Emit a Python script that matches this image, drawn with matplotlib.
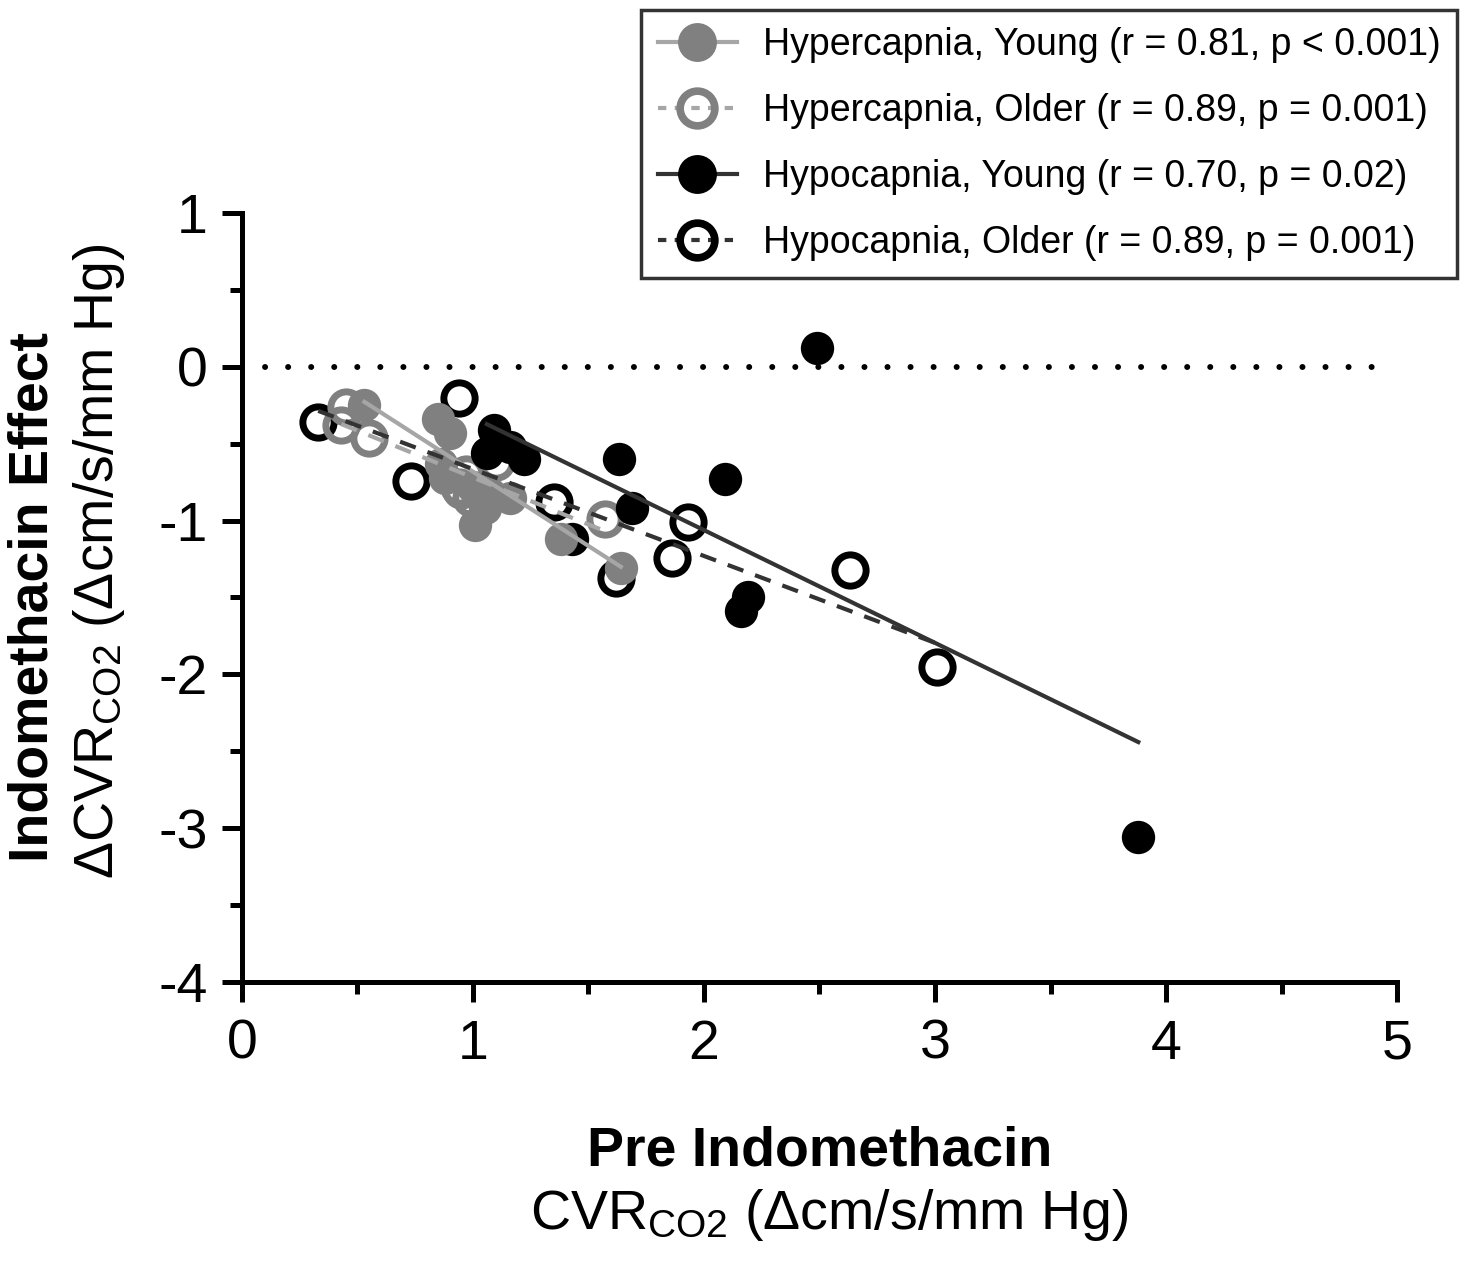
import numpy as np
import matplotlib
matplotlib.use('Agg')
import matplotlib.pyplot as plt
from matplotlib.lines import Line2D

plt.rcParams['font.family'] = ['Liberation Sans', 'DejaVu Sans']
plt.rcParams['mathtext.default'] = 'regular'

# ---- data ----
hyper_young_x = [0.53, 0.85, 0.90, 0.86, 0.88, 1.00, 1.07, 1.16, 1.01, 1.05, 1.38, 1.64]
hyper_young_y = [-0.25, -0.34, -0.43, -0.63, -0.72, -0.78, -0.82, -0.85, -1.03, -0.92, -1.12, -1.31]

hyper_older_x = [0.45, 0.43, 0.55, 0.94, 0.97, 0.99, 1.10, 1.57, 0.95]
hyper_older_y = [-0.26, -0.38, -0.46, -0.78, -0.70, -0.85, -0.62, -0.99, -0.80]

hypo_young_x = [2.49, 3.88, 1.09, 1.06, 1.16, 1.22, 1.63, 1.69, 2.09, 1.43, 2.19, 2.16]
hypo_young_y = [0.12, -3.06, -0.41, -0.56, -0.52, -0.60, -0.60, -0.92, -0.73, -1.12, -1.50, -1.59]

hypo_older_x = [0.33, 0.94, 0.73, 1.35, 1.62, 1.86, 1.93, 2.63, 3.01]
hypo_older_y = [-0.36, -0.20, -0.74, -0.88, -1.37, -1.24, -1.01, -1.32, -1.95]

# regression lines (slope, intercept) as drawn in the figure
fit_hyper_young = (-0.966, 0.284)
fit_hyper_older = (-0.61, -0.11)
fit_hypo_young = (-0.733, 0.404)
fit_hypo_older = (-0.565, -0.10)

labels = ['Hypercapnia, Young (r = 0.81, p < 0.001)',
          'Hypercapnia, Older (r = 0.89, p = 0.001)',
          'Hypocapnia, Young (r = 0.70, p = 0.02)',
          'Hypocapnia, Older (r = 0.89, p = 0.001)']

GRAY = '#808080'
LGRAY = '#a6a6a6'
DARK = '#333333'

fig = plt.figure(figsize=(14.63, 12.62), dpi=100)
ax = fig.add_axes([0.1654, 0.2219, 0.7895, 0.6093])

ms_fill = 24
ms_open = 22.5
mew_open = 5

# reference line at zero (dotted)
ax.plot([0, 4.93], [0, 0], color='black', linestyle=(0, (0.01, 3.85)), lw=4.3,
        dash_capstyle='round', zorder=1)

# markers
ax.plot(hypo_older_x, hypo_older_y, 'o', ms=ms_open, mfc='none', mec='black',
        mew=mew_open, zorder=2)
ax.plot(hyper_older_x, hyper_older_y, 'o', ms=ms_open, mfc='none', mec=GRAY,
        mew=mew_open, zorder=3)
ax.plot(hypo_young_x, hypo_young_y, 'o', ms=ms_fill, mfc='black', mec='none',
        zorder=4)
ax.plot(hyper_young_x, hyper_young_y, 'o', ms=ms_fill, mfc=GRAY, mec='none',
        zorder=5)


def fit_line(xs, fit, **kw):
    xx = np.array([min(xs), max(xs)])
    ax.plot(xx, fit[0] * xx + fit[1], zorder=6, **kw)


fit_line(hyper_young_x, fit_hyper_young, color=LGRAY, lw=3)
fit_line(hyper_older_x, fit_hyper_older, color=LGRAY, lw=3, linestyle=(0, (4, 3)))
fit_line(hypo_young_x, fit_hypo_young, color=DARK, lw=3)
fit_line(hypo_older_x, fit_hypo_older, color=DARK, lw=3, linestyle=(0, (4, 3)))

# axes styling
ax.set_xlim(0, 5)
ax.set_ylim(-4, 1)
for s in ['top', 'right']:
    ax.spines[s].set_visible(False)
for s in ['left', 'bottom']:
    ax.spines[s].set_linewidth(3.6)
    ax.spines[s].set_capstyle('projecting')
ax.set_xticks(np.arange(0, 6, 1))
ax.set_xticks(np.arange(0.5, 5, 1), minor=True)
ax.set_yticks(np.arange(-4, 2, 1))
ax.set_yticks(np.arange(-3.5, 1, 1), minor=True)
ax.set_yticklabels(['-4', '-3', '-2', '-1', '0', '1'])
ax.tick_params(which='major', length=14.5, width=3.6, labelsize=40, pad=10)
ax.tick_params(which='minor', length=8.5, width=3.6)
ax.tick_params(axis='x', which='major', pad=12)

# axis titles
fig.text(0.5605, 0.0875, 'Pre Indomethacin', fontsize=40, fontweight='bold',
         ha='center', va='center')
fig.text(0.567, 0.037, 'CVR$_{CO2}$ (Δcm/s/mm Hg)', fontsize=40,
         ha='center', va='center')
fig.text(0.0226, 0.527, 'Indomethacin Effect', fontsize=40, fontweight='bold',
         rotation=90, ha='center', va='center')
fig.text(0.068, 0.555, 'ΔCVR$_{CO2}$ (Δcm/s/mm Hg)', fontsize=40,
         rotation=90, ha='center', va='center')

# legend
leg_ms = 28
leg_ms_open = 25
handles = [
    Line2D([], [], color=LGRAY, lw=3, marker='o', ms=leg_ms, mfc=GRAY, mec='none'),
    Line2D([], [], color=LGRAY, lw=3, linestyle=(0, (2, 2)), marker='o',
           ms=leg_ms_open, mfc='none', mec=GRAY, mew=mew_open + 0.5),
    Line2D([], [], color=DARK, lw=3, marker='o', ms=leg_ms, mfc='black', mec='none'),
    Line2D([], [], color=DARK, lw=3, linestyle=(0, (2, 2)), marker='o',
           ms=leg_ms_open, mfc='none', mec='black', mew=mew_open + 0.5),
]
leg = fig.legend(handles, labels, loc='upper right', bbox_to_anchor=(0.996, 0.992),
                 fontsize=27, frameon=True, fancybox=False, edgecolor='black',
                 handlelength=2.13, handletextpad=0.67, labelspacing=0.8,
                 borderpad=0.45, borderaxespad=0)
leg.get_frame().set_linewidth(2.5)

fig.savefig('out.png', dpi=100)
